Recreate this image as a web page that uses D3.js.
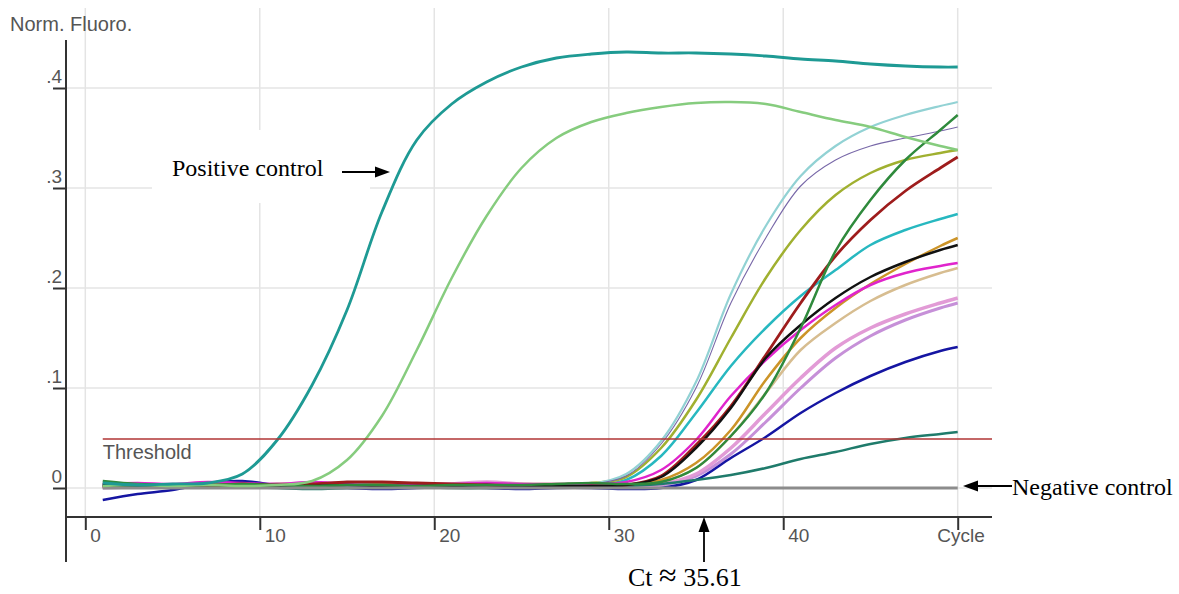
<!DOCTYPE html>
<html><head><meta charset="utf-8">
<script src="https://cdn.jsdelivr.net/npm/d3@7"></script>
<style>body{margin:0;background:#fff}svg{display:block}</style>
</head><body>
<svg id="c" width="1179" height="594"></svg>
<script>
// ---- data ----
const cycles = [1,3,5,7,9,11,13,15,17,19,21,23,25,27,29,31,33,35,37,39,41,43,45,47,49,50];
const xTicks = [0,10,20,30,40,50];
const xTickLabels = ["0","10","20","30","40","Cycle"];
const yTicks = [0,0.1,0.2,0.3,0.4];
const yTickLabels = ["0",".1",".2",".3",".4"];
const threshold = 0.049;

const positiveControl = [0.005,0.003,0.004,0.005,0.014,0.048,0.103,0.178,0.276,0.348,0.384,0.406,0.421,0.430,0.434,0.436,0.435,0.435,0.434,0.432,0.429,0.427,0.424,0.422,0.421,0.421];
const positiveControl2 = [0.002,0.003,0.002,0.003,0.002,0.003,0.007,0.028,0.072,0.138,0.210,0.272,0.320,0.350,0.366,0.375,0.381,0.385,0.386,0.384,0.376,0.368,0.361,0.351,0.342,0.338];
const samplePaleCyan = [0.003,0.002,0.003,0.002,0.003,0.002,0.003,0.002,0.003,0.002,0.003,0.002,0.003,0.003,0.004,0.014,0.047,0.106,0.194,0.262,0.312,0.342,0.361,0.373,0.382,0.386];
const samplePurple = [0.001,0.002,0.002,0.003,0.002,0.002,0.003,0.002,0.002,0.003,0.002,0.002,0.003,0.003,0.004,0.012,0.044,0.100,0.185,0.250,0.302,0.328,0.342,0.350,0.357,0.361];
const sampleOlive = [0.004,0.004,0.003,0.004,0.003,0.004,0.004,0.003,0.004,0.003,0.003,0.004,0.004,0.004,0.005,0.011,0.040,0.088,0.150,0.210,0.258,0.293,0.315,0.328,0.335,0.338];
const sampleCyan = [0.002,0.003,0.002,0.002,0.003,0.002,0.002,0.003,0.002,0.002,0.003,0.002,0.002,0.002,0.003,0.008,0.032,0.075,0.122,0.160,0.192,0.218,0.243,0.258,0.269,0.274];
const sampleMagenta = [0.004,0.005,0.004,0.006,0.005,0.004,0.006,0.004,0.003,0.004,0.004,0.005,0.004,0.004,0.004,0.006,0.018,0.048,0.092,0.128,0.158,0.183,0.203,0.215,0.222,0.225];
const sampleDarkRed = [0.001,0.002,0.003,0.002,0.004,0.003,0.004,0.006,0.006,0.005,0.004,0.003,0.002,0.001,0.002,0.003,0.012,0.043,0.082,0.133,0.185,0.232,0.268,0.297,0.320,0.331];
const sampleBlack = [0.003,0.002,0.002,0.003,0.002,0.002,0.002,0.003,0.002,0.002,0.002,0.003,0.002,0.002,0.002,0.003,0.011,0.040,0.080,0.130,0.163,0.190,0.211,0.226,0.238,0.243];
const sampleDarkGreen = [0.007,0.004,0.003,0.003,0.004,0.003,0.002,0.003,0.003,0.002,0.003,0.003,0.003,0.004,0.005,0.004,0.006,0.020,0.052,0.095,0.160,0.237,0.288,0.328,0.358,0.373];
const sampleGold = [0.002,0.001,0.002,0.002,0.003,0.002,0.002,0.002,0.003,0.002,0.002,0.002,0.002,0.002,0.003,0.003,0.008,0.025,0.058,0.108,0.150,0.180,0.204,0.224,0.242,0.250];
const sampleTan = [0.001,0.002,0.002,0.001,0.002,0.002,0.002,0.002,0.001,0.002,0.002,0.002,0.002,0.002,0.002,0.002,0.006,0.020,0.052,0.095,0.138,0.165,0.187,0.203,0.215,0.220];
const samplePink = [0.002,0.002,0.003,0.002,0.003,0.004,0.003,0.002,0.002,0.003,0.004,0.006,0.004,0.002,0.002,0.002,0.004,0.014,0.040,0.075,0.110,0.140,0.160,0.174,0.185,0.190];
const sampleLavender = [0.000,0.001,0.001,0.002,0.001,0.001,0.002,0.001,0.001,0.001,0.002,0.001,0.001,0.001,0.001,0.002,0.003,0.012,0.034,0.066,0.100,0.130,0.152,0.168,0.180,0.185];
const sampleDarkBlue = [-0.012,-0.006,-0.002,0.005,0.007,0.003,0.001,0.000,-0.001,0.000,0.001,0.000,-0.001,0.000,0.000,-0.001,0.000,0.008,0.030,0.051,0.075,0.095,0.112,0.126,0.137,0.141];
const sampleDarkTeal = [0.004,0.003,0.002,0.002,0.001,0.000,-0.001,0.000,0.001,0.001,0.000,0.000,0.001,0.001,0.001,0.002,0.004,0.008,0.013,0.020,0.029,0.036,0.044,0.050,0.054,0.056];
const negativeControl = [0,0,0,0,0,0,0,0,0,0,0,0,0,0,0,0,0,0,0,0,0,0,0,0,0,0];

// ---- styles (draw order back to front) ----
const curves = [
  {v: sampleLavender, c: "#c690d8", w: 3},
  {v: samplePink, c: "#e29bd6", w: 3.5},
  {v: sampleTan, c: "#d7bd90", w: 2.5},
  {v: sampleGold, c: "#cc9428", w: 2.5},
  {v: sampleDarkBlue, c: "#1515a2", w: 2.5},
  {v: sampleDarkTeal, c: "#1f7b6b", w: 2.5},
  {v: sampleCyan, c: "#27b8c0", w: 2.5},
  {v: sampleOlive, c: "#a0b030", w: 2.5},
  {v: samplePaleCyan, c: "#92d2d4", w: 2.2},
  {v: samplePurple, c: "#7868a8", w: 1.1},
  {v: sampleMagenta, c: "#e024cc", w: 2.5},
  {v: sampleDarkRed, c: "#9e1c1c", w: 2.8},
  {v: sampleBlack, c: "#111111", w: 2.5},
  {v: sampleDarkGreen, c: "#2f8a3c", w: 2.5},
  {v: negativeControl, c: "#8c8c8c", w: 3},
  {v: positiveControl2, c: "#86cc7e", w: 2.5},
  {v: positiveControl, c: "#1e9a94", w: 2.8}
];

// ---- drawing ----
const svg = d3.select("#c");
const x = d3.scaleLinear().domain([0, 50]).range([85.3, 957.7]);
const y = d3.scaleLinear().domain([0, 0.4]).range([488, 88]);
const axisX0 = 66, axisX1 = 992, axisY = 517;
const sans = "'Liberation Sans', Arial, sans-serif";
const serif = "'Liberation Serif', 'Times New Roman', serif";

// grid
const grid = svg.append("g").attr("stroke", "#e4e4e4").attr("stroke-width", 1.5);
xTicks.forEach(t => grid.append("line").attr("x1", x(t)).attr("x2", x(t)).attr("y1", 8).attr("y2", axisY));
yTicks.forEach(t => grid.append("line").attr("x1", axisX0).attr("x2", axisX1).attr("y1", y(t)).attr("y2", y(t)));

// white box behind annotation
svg.append("rect").attr("x", 152).attr("y", 130).attr("width", 218).attr("height", 73).attr("fill", "#fff");

// curves
const line = d3.line().x((d, i) => x(cycles[i])).y(d => y(d)).curve(d3.curveCatmullRom.alpha(0.5));
svg.append("g").selectAll("path").data(curves).join("path")
  .attr("d", d => line(d.v)).attr("fill", "none")
  .attr("stroke", d => d.c).attr("stroke-width", d => d.w)
  .attr("stroke-linejoin", "round").attr("stroke-linecap", "butt");

// threshold
svg.append("line").attr("x1", x(1)).attr("x2", axisX1).attr("y1", y(threshold)).attr("y2", y(threshold))
  .attr("stroke", "#b03535").attr("stroke-width", 1.5);
svg.append("text").attr("x", x(1)).attr("y", y(threshold) + 20).text("Threshold")
  .attr("font-family", sans).attr("font-size", 20).attr("fill", "#555");

// axes
const yAxis = svg.append("g").attr("transform", `translate(${axisX0},0)`)
  .call(d3.axisLeft(y).tickValues(yTicks).tickSize(13).tickFormat((d, i) => yTickLabels[i]));
yAxis.select(".domain").remove();
yAxis.selectAll(".tick line").attr("stroke", "#333").attr("stroke-width", 2);
yAxis.selectAll(".tick text").attr("x", -4).attr("y", -6).attr("dy", 0)
  .attr("font-family", sans).attr("font-size", 19).attr("fill", "#555");

const xAxis = svg.append("g").attr("transform", `translate(0,${axisY})`)
  .call(d3.axisBottom(x).tickValues(xTicks).tickSize(13).tickFormat((d, i) => xTickLabels[i]));
xAxis.select(".domain").remove();
xAxis.selectAll(".tick line").attr("stroke", "#333").attr("stroke-width", 2);
xAxis.selectAll(".tick text").attr("x", (d) => d === 50 ? -21 : 4.5).attr("y", 25).attr("dy", 0)
  .attr("text-anchor", "start")
  .attr("font-family", sans).attr("font-size", 19).attr("fill", "#555");

svg.append("line").attr("x1", axisX0).attr("x2", axisX0).attr("y1", 40).attr("y2", 562).attr("stroke", "#333").attr("stroke-width", 2);
svg.append("line").attr("x1", axisX0).attr("x2", axisX1).attr("y1", axisY).attr("y2", axisY).attr("stroke", "#333").attr("stroke-width", 2);

svg.append("text").attr("x", 10).attr("y", 31).text("Norm. Fluoro.")
  .attr("font-family", sans).attr("font-size", 20).attr("fill", "#555");

// annotations
function arrow(x1, y1, x2, y2) {
  const ang = Math.atan2(y2 - y1, x2 - x1), L = 15, H = 5.5;
  const bx = x2 - L * Math.cos(ang), by = y2 - L * Math.sin(ang);
  svg.append("line").attr("x1", x1).attr("y1", y1).attr("x2", bx).attr("y2", by).attr("stroke", "#000").attr("stroke-width", 1.8);
  const px = -Math.sin(ang) * H, py = Math.cos(ang) * H;
  svg.append("path").attr("d", `M${x2},${y2}L${bx + px},${by + py}L${bx - px},${by - py}Z`).attr("fill", "#000");
}
svg.append("text").attr("x", 172).attr("y", 176).text("Positive control")
  .attr("font-family", serif).attr("font-size", 24).attr("fill", "#000");
arrow(342, 172, 390, 172);

svg.append("text").attr("x", 1012).attr("y", 495).text("Negative control")
  .attr("font-family", serif).attr("font-size", 24).attr("fill", "#000");
arrow(1012, 486, 963, 486);

const ct = svg.append("text").attr("x", 628).attr("y", 586)
  .attr("font-family", serif).attr("font-size", 26).attr("fill", "#000");
ct.append("tspan").text("Ct ");
ct.append("tspan").attr("font-size", 32).text("\u2248");
ct.append("tspan").text(" 35.61");
arrow(704, 562, 704, 517);
</script>
</body></html>
